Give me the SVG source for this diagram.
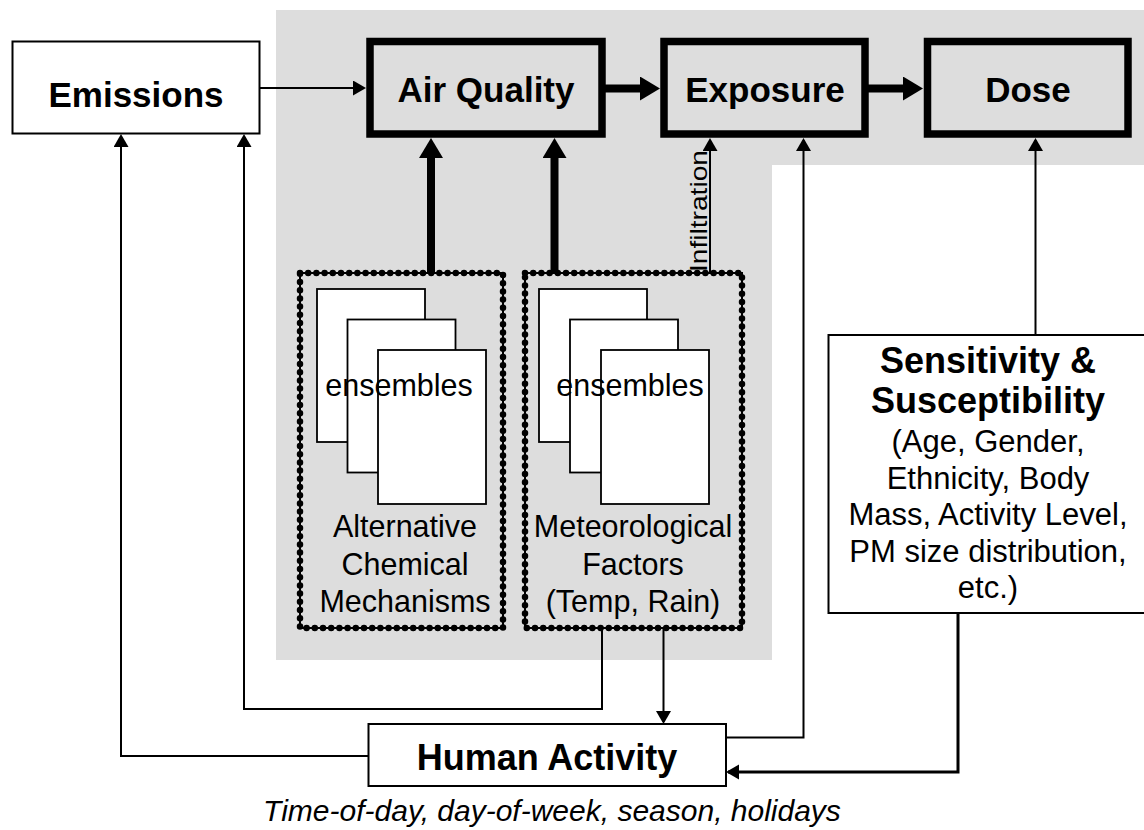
<svg xmlns="http://www.w3.org/2000/svg" width="1144" height="830" viewBox="0 0 1144 830">
<style>
  text { font-family: "Liberation Sans", Arial, sans-serif; fill: #000; text-anchor: middle; }
  .b { font-weight: bold; font-size: 35px; }
  .r { font-size: 30.5px; }
  .box { fill: #fff; stroke: #000; stroke-width: 2; }
  .big { fill: none; stroke: #000; stroke-width: 7.5; }
  .page { fill: #fff; stroke: #000; stroke-width: 1.8; }
  .dotline { fill: none; stroke: #000; stroke-width: 2; }
  .dots { fill: none; stroke: #000; stroke-width: 6.5; stroke-dasharray: 0 8.2; stroke-linecap: round; }
  .thin { fill: none; stroke: #000; stroke-width: 2; marker-end: url(#ah); }
  .thick { fill: none; stroke: #000; stroke-width: 8; marker-end: url(#ahb); }
</style>
<defs>
  <marker id="ah" markerUnits="userSpaceOnUse" markerWidth="14" markerHeight="16" refX="11" refY="7.5" orient="auto">
    <path d="M0,0 L13,7.5 L0,15 Z" fill="#000"/>
  </marker>
  <marker id="ahb" markerUnits="userSpaceOnUse" markerWidth="21" markerHeight="25" refX="8" refY="12" orient="auto">
    <path d="M0,0 L20,12 L0,24 Z" fill="#000"/>
  </marker>
</defs>
<rect width="1144" height="830" fill="#fff"/>
<polygon id="background" points="276,10 1144,10 1144,165 772,165 772,660 276,660" fill="#dddddd"/>

<g id="connectors">
  <path class="thin" d="M260,88 H364"/>
  <path class="thin" d="M710,273 V140"/>
  <path class="thin" d="M1035.5,335 V140"/>
  <path class="thin" d="M726,737.5 H803.5 V140"/>
  <path class="thin" d="M368,756 H121 V136"/>
  <path class="thin" d="M602,628 V709 H244 V136"/>
  <path class="thin" d="M663.5,628 V722"/>
  <path class="thin" style="stroke-width:3" d="M958,613 V772 H728"/>
  <path class="thick" d="M431,273 V150"/>
  <path class="thick" d="M554.5,273 V150"/>
  <path class="thick" d="M605,88.5 H648"/>
  <path class="thick" d="M868,88.5 H911"/>
</g>

<g id="emissions">
  <rect class="box" x="12.5" y="41.5" width="247" height="92"/>
  <text class="b" x="136" y="107">Emissions</text>
</g>
<g id="air-quality">
  <rect class="big" x="370" y="41.5" width="232" height="92.5"/>
  <text class="b" x="486" y="102">Air Quality</text>
</g>
<g id="exposure">
  <rect class="big" x="664" y="41.5" width="201" height="92.5"/>
  <text class="b" x="765" y="102">Exposure</text>
</g>
<g id="dose">
  <rect class="big" x="927.5" y="41.5" width="200.5" height="92.5"/>
  <text class="b" x="1028" y="102">Dose</text>
</g>

<g id="infiltration-label">
  <text class="r" transform="translate(707,272) rotate(-90)" style="text-anchor:start;font-size:24px" textLength="122" lengthAdjust="spacingAndGlyphs">Infiltration</text>
</g>

<g id="chemical-mechanisms">
  <rect class="dotline" x="300" y="273" width="203" height="355"/>
  <rect class="dots" x="300" y="273" width="203" height="355"/>
  <rect class="page" x="317" y="289" width="108" height="153"/>
  <rect class="page" x="347.5" y="319.5" width="108" height="153"/>
  <rect class="page" x="378" y="350" width="108" height="154"/>
  <text class="r" x="399" y="396">ensembles</text>
  <text class="r" x="405" y="537">Alternative</text>
  <text class="r" x="405" y="575">Chemical</text>
  <text class="r" x="405" y="612">Mechanisms</text>
</g>

<g id="meteorological-factors">
  <rect class="dotline" x="525" y="273" width="217" height="355"/>
  <rect class="dots" x="525" y="273" width="217" height="355"/>
  <rect class="page" x="539" y="289" width="108" height="153"/>
  <rect class="page" x="570" y="319.5" width="108" height="153"/>
  <rect class="page" x="601" y="350" width="108" height="154"/>
  <text class="r" x="630" y="396">ensembles</text>
  <text class="r" x="633" y="537">Meteorological</text>
  <text class="r" x="633" y="575">Factors</text>
  <text class="r" x="633" y="612">(Temp, Rain)</text>
</g>

<g id="sensitivity">
  <rect class="box" x="828.5" y="335" width="318" height="278"/>
  <text class="b" x="988" y="373" style="font-size:36px">Sensitivity &amp;</text>
  <text class="b" x="988" y="413" style="font-size:36px">Susceptibility</text>
  <text class="r" x="988" y="452" style="font-size:31px">(Age, Gender,</text>
  <text class="r" x="988" y="488.5" style="font-size:31px">Ethnicity, Body</text>
  <text class="r" x="988" y="525" style="font-size:31px">Mass, Activity Level,</text>
  <text class="r" x="988" y="561.5" style="font-size:31px">PM size distribution,</text>
  <text class="r" x="988" y="598" style="font-size:31px">etc.)</text>
</g>

<g id="human-activity">
  <rect class="box" x="368.5" y="724" width="357.5" height="62"/>
  <text class="b" x="547" y="770" style="font-size:36px">Human Activity</text>
</g>
<g id="time-note">
  <text x="552" y="821" style="font-size:30px;font-style:italic">Time-of-day, day-of-week, season, holidays</text>
</g>
</svg>
